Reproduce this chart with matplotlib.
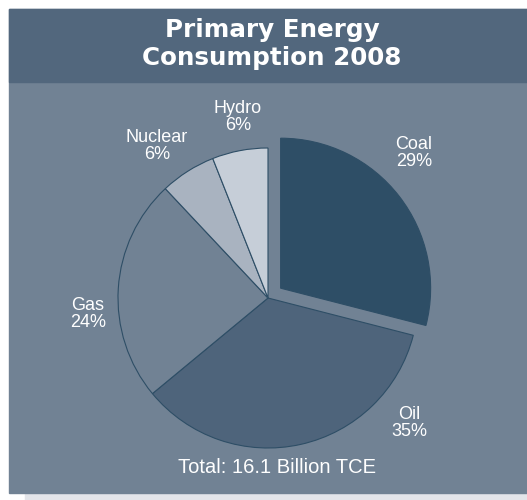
import matplotlib.pyplot as plt
from matplotlib.patches import Rectangle

plt.rcParams["font.family"] = ["Liberation Sans", "DejaVu Sans"]

# share of primary energy consumption, clockwise from 12 o'clock
sources = ["Coal", "Oil", "Gas", "Nuclear", "Hydro"]
shares = [29, 35, 24, 6, 6]
colors = ["#2e4e66", "#4e647b", "#718294", "#a9b3c0", "#c6ced8"]

# coal slice pulled out (pixels, since the pie is drawn in pixel units)
explode = [16, 0, 0, 0, 0]

# label anchor points (pixels, origin bottom-left)
label_pos = [(414, 347), (409, 77), (88, 186), (157, 354), (238, 383)]

W, H = 527, 500
fig = plt.figure(figsize=(W / 100, H / 100), dpi=100)
fig.patch.set_facecolor("white")
ax = fig.add_axes([0, 0, 1, 1])

# background panels
ax.add_patch(Rectangle((25, 0), W - 25, 8, color="#e3e5ea", zorder=0))
ax.add_patch(Rectangle((9, 7), W - 9, 484, color="#718294", zorder=0))
ax.add_patch(Rectangle((9, 418), W - 9, 73, color="#52677d", zorder=0))

ax.pie(
    shares,
    colors=colors,
    explode=explode,
    startangle=90,
    counterclock=False,
    center=(268, 202),
    radius=150,
    wedgeprops=dict(edgecolor="#2e4e66", linewidth=0.8),
)

for name, share, (x, y) in zip(sources, shares, label_pos):
    ax.text(x, y, f"{name}\n{share}%", ha="center", va="center",
            color="white", fontsize=13, linespacing=1.05)

ax.text(272, 463, "Primary Energy", ha="center", va="baseline",
        color="white", fontsize=17.7, fontweight="bold", family="DejaVu Sans")
ax.text(272, 435, "Consumption 2008", ha="center", va="baseline",
        color="white", fontsize=17.7, fontweight="bold", family="DejaVu Sans")

ax.text(277, 27, "Total: 16.1 Billion TCE", ha="center", va="baseline",
        color="white", fontsize=14.5)

ax.set_xlim(0, W)
ax.set_ylim(0, H)
ax.set_aspect("auto")
ax.axis("off")

fig.savefig("out.png", dpi=100, facecolor=fig.get_facecolor())
